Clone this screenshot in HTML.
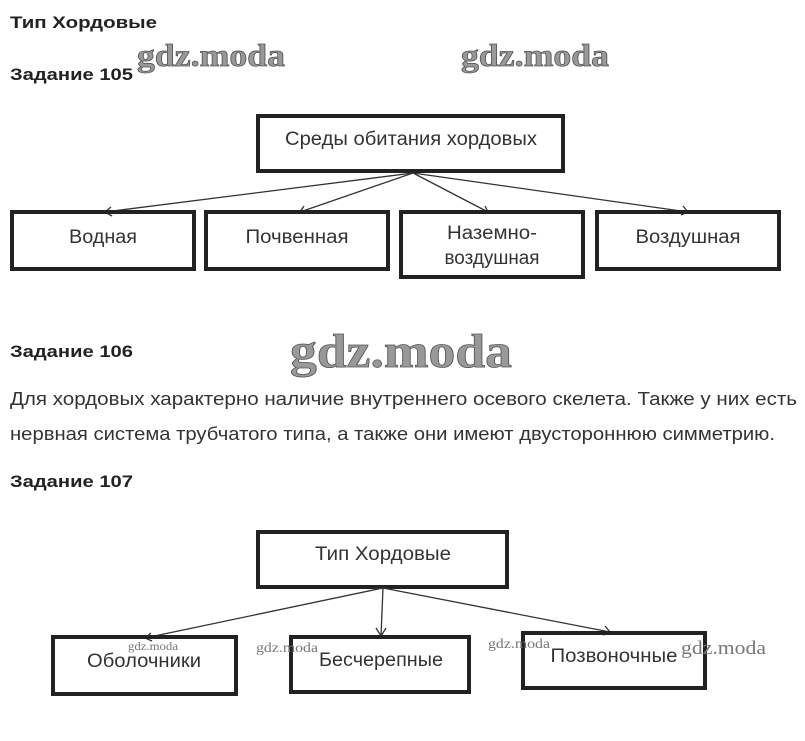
<!DOCTYPE html>
<html><head><meta charset="utf-8"><style>
html,body{margin:0;padding:0;background:#fff;width:805px;height:741px;overflow:hidden}
svg{display:block}
.h{font-family:"Liberation Sans",sans-serif;font-weight:bold;font-size:17px;fill:#222}
.t{font-family:"Liberation Sans",sans-serif;font-size:18px;fill:#333}
.b{font-family:"Liberation Sans",sans-serif;font-size:19px;fill:#333;text-anchor:middle}
.w{font-family:"Liberation Serif",serif;font-weight:bold;fill:#999;stroke:#555;stroke-width:0.8}
.ws{font-family:"Liberation Serif",serif;fill:#777}
rect{fill:none;stroke:#222;stroke-width:4}
line,polyline{stroke:#333;stroke-width:1.3;fill:none}
</style></head><body>
<svg width="805" height="741" xmlns="http://www.w3.org/2000/svg">
<text class="h" x="10" y="28" textLength="147" lengthAdjust="spacingAndGlyphs">Тип Хордовые</text>
<text class="h" x="10" y="80" textLength="123" lengthAdjust="spacingAndGlyphs">Задание 105</text>
<text class="w" x="137" y="66" font-size="32" textLength="148" lengthAdjust="spacingAndGlyphs">gdz.moda</text>
<text class="w" x="461" y="66" font-size="32" textLength="148" lengthAdjust="spacingAndGlyphs">gdz.moda</text>

<rect x="258" y="116" width="305" height="55"/>
<text class="b" x="411" y="145" textLength="252" lengthAdjust="spacingAndGlyphs">Среды обитания хордовых</text>
<g>
<line x1="413" y1="173" x2="105" y2="212"/><polyline points="111,207 105,212 112,216"/>
<line x1="413" y1="173" x2="300" y2="212"/><polyline points="304,206 300,212 307,213"/>
<line x1="413" y1="173" x2="488" y2="212"/><polyline points="481,212 488,212 485,206"/>
<line x1="413" y1="173" x2="688" y2="212"/><polyline points="681,215 688,212 683,206"/>
</g>
<rect x="12" y="212" width="182" height="57"/>
<text class="b" x="103" y="243" textLength="68" lengthAdjust="spacingAndGlyphs">Водная</text>
<rect x="206" y="212" width="182" height="57"/>
<text class="b" x="297" y="243" textLength="103" lengthAdjust="spacingAndGlyphs">Почвенная</text>
<rect x="401" y="212" width="182" height="65"/>
<text class="b" x="492" y="239" textLength="90" lengthAdjust="spacingAndGlyphs">Наземно-</text>
<text class="b" x="492" y="264" textLength="95" lengthAdjust="spacingAndGlyphs">воздушная</text>
<rect x="597" y="212" width="182" height="57"/>
<text class="b" x="688" y="243" textLength="105" lengthAdjust="spacingAndGlyphs">Воздушная</text>

<text class="h" x="10" y="357" textLength="123" lengthAdjust="spacingAndGlyphs">Задание 106</text>
<text class="w" x="290" y="367" font-size="48" textLength="222" lengthAdjust="spacingAndGlyphs">gdz.moda</text>
<text class="t" x="10" y="405" textLength="787" lengthAdjust="spacingAndGlyphs">Для хордовых характерно наличие внутреннего осевого скелета. Также у них есть</text>
<text class="t" x="10" y="440" textLength="765" lengthAdjust="spacingAndGlyphs">нервная система трубчатого типа, а также они имеют двустороннюю симметрию.</text>
<text class="h" x="10" y="487" textLength="123" lengthAdjust="spacingAndGlyphs">Задание 107</text>

<rect x="258" y="532" width="249" height="55"/>
<text class="b" x="383" y="560" textLength="136" lengthAdjust="spacingAndGlyphs">Тип Хордовые</text>
<line x1="383" y1="588" x2="145" y2="638"/><polyline points="151,633 145,638 152,641"/>
<line x1="383" y1="588" x2="381" y2="636"/><polyline points="376,628 381,636 386,628"/>
<line x1="383" y1="588" x2="610" y2="632"/><polyline points="603,635 610,632 605,626"/>
<rect x="53" y="637" width="183" height="57"/>
<text class="b" x="144" y="667" textLength="114" lengthAdjust="spacingAndGlyphs">Оболочники</text>
<rect x="291" y="637" width="178" height="55"/>
<text class="b" x="381" y="666" textLength="124" lengthAdjust="spacingAndGlyphs">Бесчерепные</text>
<rect x="523" y="633" width="182" height="55"/>
<text class="b" x="614" y="662" textLength="127" lengthAdjust="spacingAndGlyphs">Позвоночные</text>
<text class="ws" x="128" y="650" font-size="12" textLength="50" lengthAdjust="spacingAndGlyphs">gdz.moda</text>
<text class="ws" x="256" y="652" font-size="14" textLength="62" lengthAdjust="spacingAndGlyphs">gdz.moda</text>
<text class="ws" x="488" y="648" font-size="14" textLength="62" lengthAdjust="spacingAndGlyphs">gdz.moda</text>
<text class="ws" x="681" y="654" font-size="19" textLength="85" lengthAdjust="spacingAndGlyphs">gdz.moda</text>
</svg>
</body></html>
